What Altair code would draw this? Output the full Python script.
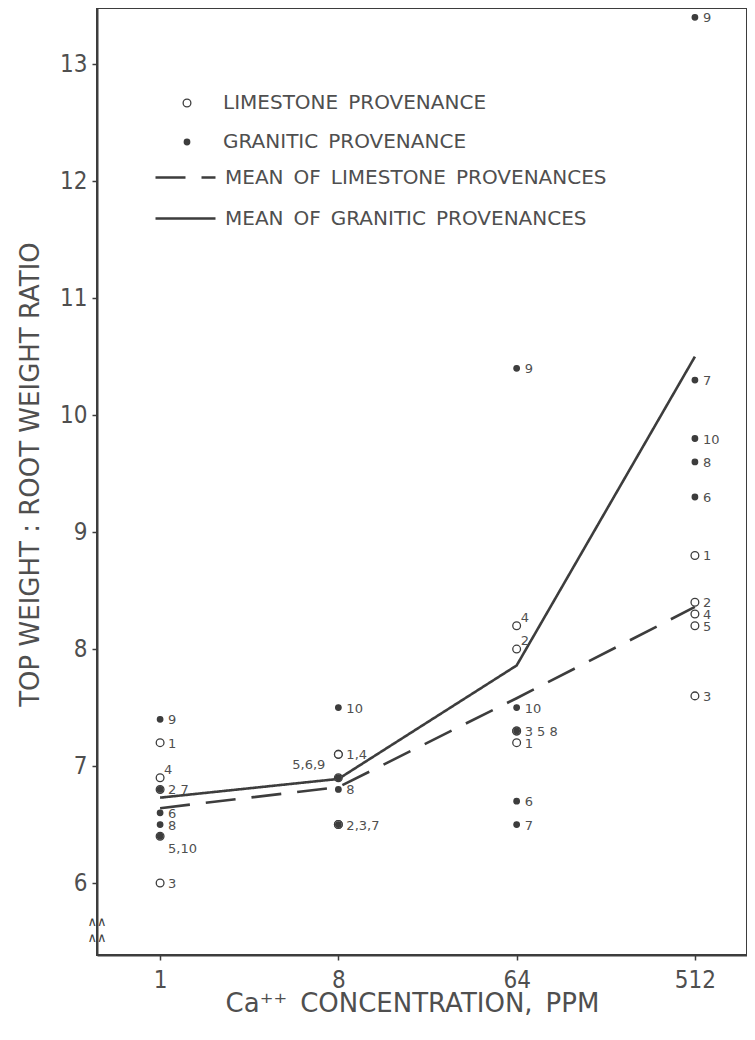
import altair as alt
import pandas as pd

# ---- data ----
conc = [1, 8, 64, 512]
y_ticks = [6, 7, 8, 9, 10, 11, 12, 13]

lime_ids = [1, 2, 3, 4, 5]
gran_ids = [6, 7, 8, 9, 10]

# values per concentration, provenances in id order
lime_at_1 = [7.2, 6.8, 6.0, 6.9, 6.4]
lime_at_8 = [7.1, 6.5, 6.5, 7.1, 6.9]
lime_at_64 = [7.2, 8.0, 7.3, 8.2, 7.3]
lime_at_512 = [8.8, 8.4, 7.6, 8.3, 8.2]

gran_at_1 = [6.6, 6.8, 6.5, 7.4, 6.4]
gran_at_8 = [6.9, 6.5, 6.8, 6.9, 7.5]
gran_at_64 = [6.7, 6.5, 7.3, 10.4, 7.5]
gran_at_512 = [9.3, 10.3, 9.6, 13.4, 9.8]

lime_mean = [6.64, 6.82, 7.58, 8.36]
gran_mean = [6.73, 6.89, 7.86, 10.50]

lab_conc = [1, 1, 1, 1, 1, 1, 1, 1,
            8, 8, 8, 8, 8,
            64, 64, 64, 64, 64, 64, 64, 64,
            512, 512, 512, 512, 512, 512, 512, 512, 512, 512]
lab_value = [7.4, 7.2, 6.9, 6.8, 6.6, 6.5, 6.4, 6.0,
             7.5, 7.1, 6.9, 6.8, 6.5,
             10.4, 8.2, 8.0, 7.5, 7.3, 7.2, 6.7, 6.5,
             13.4, 10.3, 9.8, 9.6, 9.3, 8.8, 8.4, 8.3, 8.2, 7.6]
lab_text = ["9", "1", "4", "2 7", "6", "8", "5,10", "3",
            "10", "1,4", "5,6,9", "8", "2,3,7",
            "9", "4", "2", "10", "3 5 8", "1", "6", "7",
            "9", "7", "10", "8", "6", "1", "2", "4", "5", "3"]
lab_place = ["right", "right", "upper", "right", "right", "right", "lower", "right",
             "right", "right", "left", "right", "right",
             "right", "upper", "upper", "right", "right", "right", "right", "right",
             "right", "right", "right", "right", "right", "right", "right", "right", "right", "right"]

break_y = [5.67]

SP = "\u2002"
LIME = "LIMESTONE" + SP + "PROVENANCE"
GRAN = "GRANITIC" + SP + "PROVENANCE"
LMEAN = "MEAN" + SP + "OF" + SP + "LIMESTONE" + SP + "PROVENANCES"
GMEAN = "MEAN" + SP + "OF" + SP + "GRANITIC" + SP + "PROVENANCES"

# ---- tables ----
rows = []
for c, vals in zip(conc, [lime_at_1, lime_at_8, lime_at_64, lime_at_512]):
    for pid, v in zip(lime_ids, vals):
        rows.append({"conc": c, "value": v, "prov": pid, "type": LIME, "order": 0})
for c, vals in zip(conc, [gran_at_1, gran_at_8, gran_at_64, gran_at_512]):
    for pid, v in zip(gran_ids, vals):
        rows.append({"conc": c, "value": v, "prov": pid, "type": GRAN, "order": 1})
points = pd.DataFrame(rows)

means = pd.DataFrame(
    [{"conc": c, "value": v, "series": LMEAN} for c, v in zip(conc, lime_mean)]
    + [{"conc": c, "value": v, "series": GMEAN} for c, v in zip(conc, gran_mean)]
)

labels = pd.DataFrame({"conc": lab_conc, "value": lab_value,
                       "text": lab_text, "place": lab_place})
breaks = pd.DataFrame({"value": break_y, "text": ["\u2227\u2227|\u2227\u2227"]})

INK = "#3d3d3d"
TXT = "#4f4f4f"
NARROW = "Liberation Sans Narrow, DejaVu Sans Condensed, Liberation Sans, sans-serif"
WIDE = "DejaVu Sans, sans-serif"

xscale = alt.Scale(type="log", base=2, domain=[0.479, 940], nice=False)
yscale = alt.Scale(domain=[5.385, 13.48], nice=False, zero=False)

x_enc = alt.X("conc:Q", scale=xscale,
              axis=alt.Axis(values=conc, title="Ca\u207a\u207a" + SP + "CONCENTRATION," + SP + "PPM",
                            format="d", labelFlush=False, labelOverlap=False,
                            titleX=315, titleY=48, titleBaseline="middle",
                            titleAlign="center"))
y_enc = alt.Y("value:Q", scale=yscale,
              axis=alt.Axis(values=y_ticks, title="TOP WEIGHT : ROOT WEIGHT RATIO",
                            format="d", titleX=-67, titleY=466, titleAngle=270,
                            titleBaseline="middle", titleAlign="center"))

pt_legend = alt.Legend(orient="none", legendX=80, legendY=85,
                       title=None, padding=0, rowPadding=19,
                       labelOffset=26, labelFontSize=20, labelFont=WIDE,
                       labelColor=TXT, symbolType="circle",
                       symbolStrokeWidth=1.3, labelLimit=0)

pts = alt.Chart(points).mark_point(shape="circle", strokeWidth=1.3, opacity=1).encode(
    x=x_enc,
    y=y_enc,
    fill=alt.Fill("type:N",
                  scale=alt.Scale(domain=[LIME, GRAN], range=["white", INK]),
                  legend=pt_legend),
    stroke=alt.Stroke("type:N",
                      scale=alt.Scale(domain=[LIME, GRAN], range=[INK, INK]),
                      legend=pt_legend),
    size=alt.Size("type:N", scale=alt.Scale(domain=[LIME, GRAN], range=[60, 30]),
                  legend=pt_legend),
    order=alt.Order("order:Q"),
)

lines = alt.Chart(means).mark_line(stroke=INK, strokeWidth=2.6).encode(
    x=alt.X("conc:Q", scale=xscale),
    y=alt.Y("value:Q", scale=yscale),
    strokeDash=alt.StrokeDash("series:N",
                              scale=alt.Scale(domain=[LMEAN, GMEAN],
                                              range=[[30, 16], [1, 0]]),
                              legend=alt.Legend(orient="none", legendX=77, legendY=158,
                                                title=None, padding=0, rowPadding=19,
                                                labelOffset=28, labelFontSize=20,
                                                labelFont=WIDE, labelColor=TXT,
                                                symbolType="M-3,0L3,0", symbolSize=400,
                                                symbolStrokeWidth=2.6,
                                                symbolStrokeColor=INK, labelLimit=0)),
)

def label_layer(place, dx, dy, align):
    return alt.Chart(labels).transform_filter(
        alt.datum.place == place
    ).mark_text(dx=dx, dy=dy, align=align, baseline="middle", fontSize=13,
                font=WIDE, color=TXT).encode(
        x=alt.X("conc:Q", scale=xscale),
        y=alt.Y("value:Q", scale=yscale),
        text="text:N",
    )

lab_right = label_layer("right", 8, 1, "left")
lab_upper = label_layer("upper", 4, -8, "left")
lab_lower = label_layer("lower", 8, 13, "left")
lab_left = label_layer("left", -13, -13, "right")

brk = alt.Chart(breaks).mark_text(fontSize=13, font=WIDE, color=INK, lineBreak="|",
                                  lineHeight=16, align="center",
                                  baseline="middle").encode(
    x=alt.value(0),
    y=alt.Y("value:Q", scale=yscale),
    text="text:N",
)

chart = alt.layer(lines, pts, lab_right, lab_upper, lab_lower, lab_left, brk).properties(
    width=650, height=947,
    autosize=alt.AutoSizeParams(type="none"),
    padding={"left": 89, "top": 0, "right": 0, "bottom": 70},
    background="white",
).configure_view(
    stroke=INK, strokeWidth=2
).configure_axis(
    grid=False, domainColor=INK, domainWidth=2, tickColor=INK, tickWidth=1.5,
    tickSize=5, labelFont=NARROW, labelFontSize=24, labelColor=TXT,
    labelPadding=5, titleFont=WIDE, titleFontSize=26, titleColor=TXT,
    titleFontWeight="normal",
).configure_axisX(labelPadding=8)

chart.save("out.html", embed_options={"renderer": "svg", "actions": False})
